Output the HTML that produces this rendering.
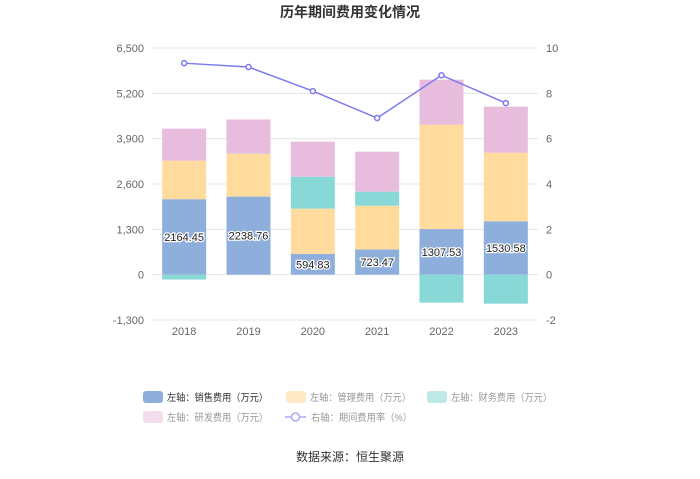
<!DOCTYPE html>
<html><head><meta charset="utf-8"><style>
body{margin:0;background:#fff;font-family:"Liberation Sans","Noto Sans CJK SC",sans-serif;}
svg text{font-family:"Liberation Sans","Noto Sans CJK SC",sans-serif;}
</style></head><body>
<svg id="c" width="700" height="474"></svg>
<script>
const years=["2018","2019","2020","2021","2022","2023"];
const sales=[2164.45,2238.76,594.83,723.47,1307.53,1530.58];
const mgmt=[1105,1231,1298,1255,2994,1968];
const fin=[-140,5,917,401,-803,-832];
const rnd=[918,975,1004,1147,1290,1319];
const rate=[9.33,9.16,8.10,6.91,8.80,7.57];
const leftTicks=[-1300,0,1300,2600,3900,5200,6500];
const rightTicks=[-2,0,2,4,6,8,10];
const NS="http://www.w3.org/2000/svg";
const svg=document.getElementById('c');
const plotTop=48,plotBot=320,x0=152,x1=538;
const yL=v=>plotBot-(v+1300)/7800*(plotBot-plotTop);
const yR=v=>plotBot-(v+2)/12*(plotBot-plotTop);
const bw=(x1-x0)/years.length;
const xC=i=>x0+bw*(i+0.5);
function el(tag,a,txt){const e=document.createElementNS(NS,tag);for(const k in a)e.setAttribute(k,a[k]);if(txt!==undefined)e.textContent=txt;svg.appendChild(e);return e;}
let ttl=el('text',{x:350,y:17,'text-anchor':'middle','font-size':14,'font-weight':'bold',fill:'#333'},'历年期间费用变化情况');


leftTicks.forEach((v,i)=>{
 let g=el('line',{x1:x0,x2:x1,y1:yL(v),y2:yL(v),stroke:'#e6e6e6'});
 
 
 let a=el('text',{x:x0-8,y:yL(v)+4,'text-anchor':'end','font-size':11,fill:'#666'},v.toLocaleString('en-US'));
 
 
 let b=el('text',{x:x1+8,y:yR(rightTicks[i])+4,'text-anchor':'start','font-size':11,fill:'#666'},rightTicks[i]);
 
 
});
const cols={s:'#8eaedc',m:'#ffdc9e',f:'#88d8d8',r:'#e8bcdc'};
function bar(i,a,b,c,n){const y1=yL(a),y2=yL(b);const r=el('rect',{x:xC(i)-22,y:Math.min(y1,y2),width:44,height:Math.abs(y1-y2),fill:c});
 
 }
years.forEach((yr,i)=>{
 let pos=0,neg=0;
 [[sales[i],cols.s,'bar-sales'],[mgmt[i],cols.m,'bar-management'],[fin[i],cols.f,'bar-finance'],[rnd[i],cols.r,'bar-rnd']].forEach(([v,c,n])=>{
  if(v>=0){bar(i,pos,pos+v,c,n);pos+=v;}else{bar(i,neg,neg+v,c,n);neg+=v;}
 });
 let lb=el('text',{x:xC(i),y:yL(sales[i]/2)+4,'text-anchor':'middle','font-size':11,fill:'#222',stroke:'#fff','stroke-width':2.5,'paint-order':'stroke'},sales[i].toFixed(2));
 
 
 let xl=el('text',{x:xC(i),y:plotBot+15,'text-anchor':'middle','font-size':11,fill:'#666'},yr);
 
 
});
let pl=el('polyline',{points:rate.map((v,i)=>xC(i)+','+yR(v)).join(' '),fill:'none',stroke:'#7b7bf0','stroke-width':1.5});


rate.forEach((v,i)=>{let c=el('circle',{cx:xC(i),cy:yR(v),r:2.5,fill:'#fff',stroke:'#7b7bf0','stroke-width':1.5});
 
 });
const leg=[[143,397,cols.s,'左轴：销售费用（万元）','#333'],[286,397,'#ffe9c4','左轴：管理费用（万元）','#999'],[427,397,'#bfe9e9','左轴：财务费用（万元）','#999'],[143,417,'#f3dcec','左轴：研发费用（万元）','#999']];
leg.forEach(([x,y,c,s,tc])=>{
 let r=el('rect',{x:x,y:y-6,width:20,height:12,rx:3,fill:c});
 
 
 let tx=el('text',{x:x+24,y:y+4,'font-size':10,fill:tc,textLength:101,lengthAdjust:'spacingAndGlyphs'},s);
 
 
});
let ll=el('line',{x1:285,x2:306,y1:417,y2:417,stroke:'#aaaaf5','stroke-width':1.5});


let lc=el('circle',{cx:295.5,cy:417,r:4,fill:'#fff',stroke:'#aaaaf5','stroke-width':1.5});


let lt=el('text',{x:311,y:421,'font-size':10,fill:'#999',textLength:101,lengthAdjust:'spacingAndGlyphs'},'右轴：期间费用率（%）');


let src=el('text',{x:350,y:461,'text-anchor':'middle','font-size':12,fill:'#333'},'数据来源：恒生聚源');


</script>
</body></html>
